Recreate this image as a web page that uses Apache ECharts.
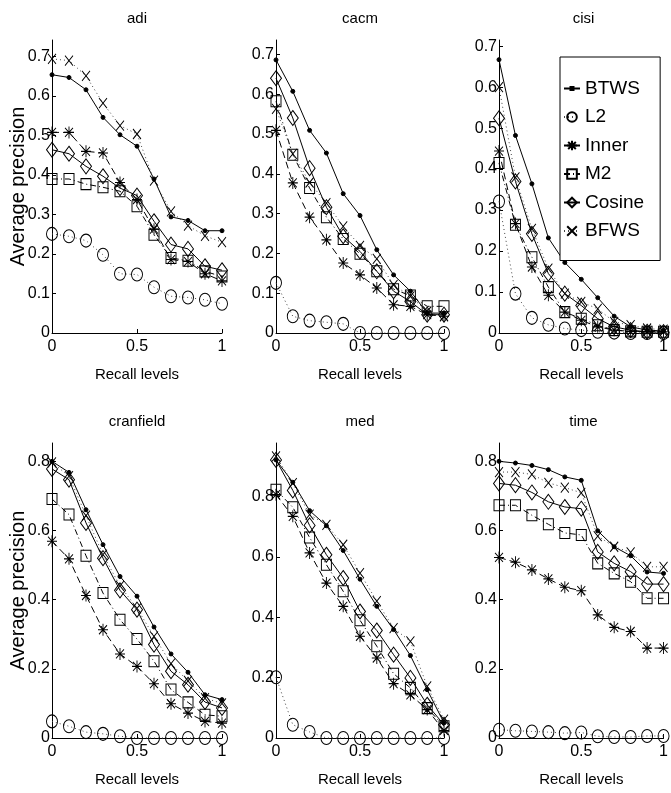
<!DOCTYPE html>
<html><head><meta charset="utf-8">
<script src="https://cdn.jsdelivr.net/npm/echarts@6/dist/echarts.min.js"></script>
<style>html,body{margin:0;padding:0;background:#fff}#c{width:671px;height:793px}</style>
</head><body><div id="c"></div>
<script>
// ---------------- data ----------------
const recall = [0, 0.1, 0.2, 0.3, 0.4, 0.5, 0.6, 0.7, 0.8, 0.9, 1];
const panels = ['adi', 'cacm', 'cisi', 'cranfield', 'med', 'time'];
const methods = ['BTWS', 'L2', 'Inner', 'M2', 'Cosine', 'BFWS'];
const xTicks = [0, 0.5, 1];
const yTicksTop = [0, 0.1, 0.2, 0.3, 0.4, 0.5, 0.6, 0.7];
const yTicksBottom = [0, 0.2, 0.4, 0.6, 0.8];

const adi_BTWS   = [0.654, 0.647, 0.616, 0.546, 0.502, 0.473, 0.390, 0.294, 0.285, 0.259, 0.259];
const adi_L2     = [0.251, 0.245, 0.234, 0.198, 0.150, 0.148, 0.116, 0.093, 0.090, 0.084, 0.074];
const adi_Inner  = [0.508, 0.508, 0.460, 0.456, 0.381, 0.338, 0.263, 0.186, 0.181, 0.150, 0.132];
const adi_M2     = [0.390, 0.390, 0.377, 0.369, 0.359, 0.321, 0.249, 0.190, 0.183, 0.156, 0.143];
const adi_Cosine = [0.464, 0.454, 0.422, 0.397, 0.367, 0.348, 0.283, 0.224, 0.213, 0.169, 0.159];
const adi_BFWS   = [0.694, 0.690, 0.651, 0.582, 0.525, 0.504, 0.386, 0.308, 0.272, 0.246, 0.230];

const cacm_BTWS   = [0.686, 0.607, 0.509, 0.452, 0.350, 0.295, 0.209, 0.146, 0.105, 0.050, 0.050];
const cacm_L2     = [0.126, 0.042, 0.031, 0.027, 0.023, 0, 0, 0, 0, 0, 0];
const cacm_Inner  = [0.509, 0.377, 0.291, 0.234, 0.176, 0.146, 0.113, 0.071, 0.067, 0.046, 0.042];
const cacm_M2     = [0.582, 0.448, 0.364, 0.291, 0.236, 0.199, 0.155, 0.110, 0.094, 0.067, 0.067];
const cacm_Cosine = [0.640, 0.540, 0.414, 0.316, 0.243, 0.205, 0.155, 0.105, 0.079, 0.046, 0.046];
const cacm_BFWS   = [0.563, 0.450, 0.378, 0.326, 0.268, 0.219, 0.186, 0.121, 0.092, 0.054, 0.042];

const cisi_BTWS   = [0.667, 0.482, 0.364, 0.232, 0.172, 0.131, 0.086, 0.041, 0.015, 0.007, 0.005];
const cisi_L2     = [0.321, 0.096, 0.037, 0.020, 0.011, 0.007, 0.003, 0.001, 0, 0, 0];
const cisi_Inner  = [0.444, 0.267, 0.161, 0.092, 0.051, 0.031, 0.015, 0.007, 0.004, 0.003, 0.003];
const cisi_M2     = [0.415, 0.264, 0.185, 0.112, 0.051, 0.035, 0.019, 0.007, 0.004, 0.003, 0.003];
const cisi_Cosine = [0.524, 0.370, 0.242, 0.145, 0.096, 0.067, 0.035, 0.015, 0.007, 0.003, 0.002];
const cisi_BFWS   = [0.600, 0.380, 0.254, 0.157, 0.096, 0.076, 0.059, 0.027, 0.019, 0.011, 0.008];

const cranfield_BTWS   = [0.800, 0.768, 0.660, 0.559, 0.467, 0.410, 0.321, 0.243, 0.190, 0.125, 0.111];
const cranfield_L2     = [0.048, 0.034, 0.017, 0.012, 0.005, 0, 0, 0, 0, 0, 0];
const cranfield_Inner  = [0.569, 0.518, 0.412, 0.313, 0.243, 0.207, 0.157, 0.099, 0.072, 0.048, 0.043];
const cranfield_M2     = [0.691, 0.646, 0.527, 0.419, 0.342, 0.286, 0.222, 0.140, 0.103, 0.067, 0.063];
const cranfield_Cosine = [0.778, 0.747, 0.622, 0.520, 0.427, 0.371, 0.270, 0.193, 0.154, 0.104, 0.087];
const cranfield_BFWS   = [0.797, 0.757, 0.643, 0.530, 0.440, 0.375, 0.294, 0.215, 0.165, 0.115, 0.100];

const med_BTWS   = [0.921, 0.847, 0.753, 0.703, 0.621, 0.526, 0.436, 0.359, 0.273, 0.160, 0.050];
const med_L2     = [0.201, 0.044, 0.020, 0, 0, 0, 0, 0, 0, 0, 0];
const med_Inner  = [0.806, 0.734, 0.613, 0.513, 0.436, 0.337, 0.265, 0.180, 0.143, 0.094, 0.025];
const med_M2     = [0.822, 0.764, 0.664, 0.574, 0.486, 0.390, 0.304, 0.213, 0.166, 0.099, 0.039];
const med_Cosine = [0.921, 0.820, 0.704, 0.607, 0.530, 0.419, 0.356, 0.276, 0.199, 0.110, 0.044];
const med_BFWS   = [0.933, 0.844, 0.740, 0.706, 0.640, 0.546, 0.453, 0.364, 0.320, 0.171, 0.061];

const time_BTWS   = [0.800, 0.795, 0.788, 0.776, 0.755, 0.745, 0.599, 0.553, 0.527, 0.480, 0.476];
const time_L2     = [0.024, 0.021, 0.019, 0.017, 0.014, 0.016, 0.005, 0.003, 0.003, 0.006, 0.006];
const time_Inner  = [0.522, 0.508, 0.486, 0.460, 0.436, 0.426, 0.356, 0.320, 0.308, 0.260, 0.260];
const time_M2     = [0.673, 0.673, 0.644, 0.618, 0.593, 0.587, 0.505, 0.476, 0.452, 0.404, 0.404];
const time_Cosine = [0.736, 0.731, 0.710, 0.683, 0.668, 0.663, 0.538, 0.505, 0.481, 0.445, 0.445];
const time_BFWS   = [0.769, 0.769, 0.762, 0.738, 0.724, 0.709, 0.584, 0.553, 0.537, 0.495, 0.495];

const panelData = {
  adi:       {BTWS: adi_BTWS, L2: adi_L2, Inner: adi_Inner, M2: adi_M2, Cosine: adi_Cosine, BFWS: adi_BFWS},
  cacm:      {BTWS: cacm_BTWS, L2: cacm_L2, Inner: cacm_Inner, M2: cacm_M2, Cosine: cacm_Cosine, BFWS: cacm_BFWS},
  cisi:      {BTWS: cisi_BTWS, L2: cisi_L2, Inner: cisi_Inner, M2: cisi_M2, Cosine: cisi_Cosine, BFWS: cisi_BFWS},
  cranfield: {BTWS: cranfield_BTWS, L2: cranfield_L2, Inner: cranfield_Inner, M2: cranfield_M2, Cosine: cranfield_Cosine, BFWS: cranfield_BFWS},
  med:       {BTWS: med_BTWS, L2: med_L2, Inner: med_Inner, M2: med_M2, Cosine: med_Cosine, BFWS: med_BFWS},
  time:      {BTWS: time_BTWS, L2: time_L2, Inner: time_Inner, M2: time_M2, Cosine: time_Cosine, BFWS: time_BFWS}
};

// ---------------- layout & style ----------------
const FONT = "'Liberation Sans', Arial, Helvetica, sans-serif";
const colLeft = [52, 276, 499];
const colWidth = [170, 168, 169];
const rowTop = [40, 443];
const rowHeight = [293, 295];
const yMax = [0.742, 0.736, 0.715, 0.853, 0.977, 0.853];

const asterisk = 'path://M5 0L5 12M0 6L10 6M1 1.5L9 10.5M9 1.5L1 10.5';
const cross = 'path://M0 0L10 10M10 0L0 10';
const styles = {
  BTWS:   {symbol: 'circle', size: 4, fill: '#000', dash: 'solid', color: '#000'},
  L2:     {symbol: 'circle', size: [11, 13], fill: 'none', dash: [1, 3], color: '#444'},
  Inner:  {symbol: asterisk, size: [10, 12], fill: 'none', dash: [7, 4], color: '#000'},
  M2:     {symbol: 'rect', size: [10, 11], fill: 'none', dash: [6, 3, 1, 3], color: '#000'},
  Cosine: {symbol: 'diamond', size: [11, 15], fill: 'none', dash: 'solid', color: '#000'},
  BFWS:   {symbol: cross, size: [8, 10], fill: 'none', dash: [1, 3], color: '#444'}
};

const grids = [], xAxes = [], yAxes = [], series = [], graphics = [];
panels.forEach((p, i) => {
  const r = Math.floor(i / 3), c = i % 3;
  grids.push({left: colLeft[c], top: rowTop[r], width: colWidth[c], height: rowHeight[r]});
  const yt = r === 0 ? yTicksTop : yTicksBottom;
  xAxes.push({
    type: 'value', gridIndex: i, min: 0, max: 1,
    name: 'Recall levels', nameLocation: 'middle', nameGap: 34, nameMoveOverlap: false,
    nameTextStyle: {color: '#000', fontSize: 15, fontFamily: FONT},
    axisLine: {show: true, onZero: false, lineStyle: {color: '#000', width: 1}},
    axisTick: {show: true, inside: true, length: 4, customValues: xTicks, lineStyle: {color: '#000'}},
    axisLabel: {customValues: xTicks, formatter: v => String(v), color: '#000', fontSize: 16, fontFamily: FONT, margin: 6},
    splitLine: {show: false}
  });
  yAxes.push({
    type: 'value', gridIndex: i, min: 0, max: yMax[i],
    name: c === 0 ? 'Average precision' : '', nameLocation: 'middle', nameGap: 24, nameMoveOverlap: false,
    nameTextStyle: {color: '#000', fontSize: 20, fontFamily: FONT},
    axisLine: {show: true, onZero: false, lineStyle: {color: '#000', width: 1}},
    axisTick: {show: true, inside: true, length: 4, customValues: yt, lineStyle: {color: '#000'}},
    axisLabel: {customValues: yt, formatter: v => String(v), color: '#000', fontSize: 16, fontFamily: FONT, margin: 2},
    splitLine: {show: false}
  });
  graphics.push({
    type: 'text', x: colLeft[c] + colWidth[c] / 2, y: rowTop[r] - 21,
    style: {text: p, align: 'center', verticalAlign: 'middle', font: '15px ' + FONT, fill: '#000'}
  });
  methods.forEach(m => {
    const st = styles[m];
    series.push({
      name: m, type: 'line', xAxisIndex: i, yAxisIndex: i,
      data: recall.map((x, k) => [x, panelData[p][m][k]]),
      symbol: st.symbol, symbolSize: st.size, showSymbol: true, clip: false,
      lineStyle: {color: st.color, width: 1, type: st.dash},
      itemStyle: {color: st.fill, borderColor: '#000', borderWidth: 1},
      emphasis: {disabled: true}, animation: false, silent: true
    });
  });
});

const legendData = methods.map(m => m === 'BTWS'
  ? {name: m, icon: 'path://M0 0M16 12M0 6L16 6M6.5 4.5L9.5 4.5L9.5 7.5L6.5 7.5Z'}
  : {name: m});

const chart = echarts.init(document.getElementById('c'), null, {renderer: 'canvas'});
chart.setOption({
  backgroundColor: '#fff',
  animation: false,
  grid: grids, xAxis: xAxes, yAxis: yAxes, series: series,
  graphic: graphics,
  legend: {
    data: legendData, orient: 'vertical', left: 560, top: 57,
    padding: [22, 16, 20, 3], itemGap: 9.5, itemWidth: 16, itemHeight: 12,
    backgroundColor: '#fff', borderColor: '#000', borderWidth: 1,
    textStyle: {color: '#000', fontSize: 19, fontFamily: FONT}, selectedMode: false
  }
});
</script></body></html>
